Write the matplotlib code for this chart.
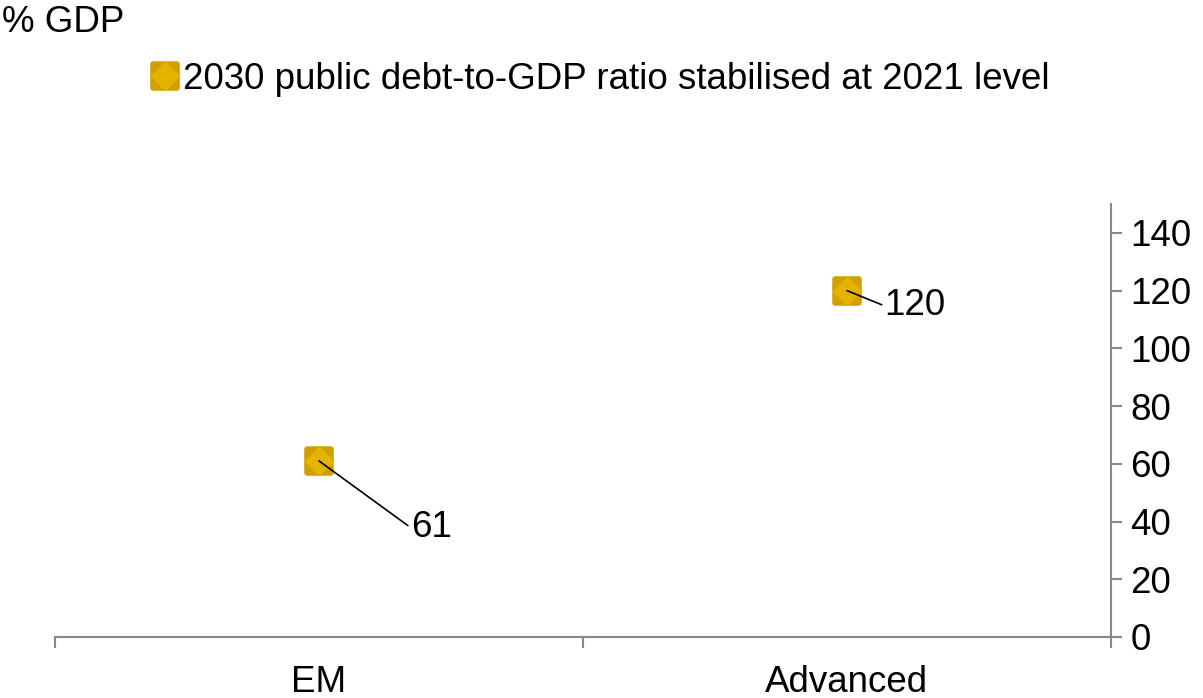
import matplotlib.pyplot as plt
from matplotlib.lines import Line2D
from matplotlib.markers import MarkerStyle

plt.rcParams['font.family'] = ['Liberation Sans', 'DejaVu Sans']

# data
categories = ["EM", "Advanced"]
values = [61, 120]
series_name = "2030 public debt-to-GDP ratio stabilised at 2021 level"
label_offsets = [(66, -48), (27, -11)]  # annotation offsets in points

gold = "#CFA000"
gold_light = "#E4B300"
grey = "#888888"
fs = 26.5

fig = plt.figure(figsize=(12.03, 6.98), dpi=100)
ax = fig.add_axes([0.0457, 0.0874, 0.8778, 0.6203])

rounded_sq = MarkerStyle("s", joinstyle="round")
x = list(range(len(categories)))
ax.plot(x, values, linestyle="none", marker=rounded_sq, markersize=17,
        markerfacecolor=gold, markeredgecolor=gold, markeredgewidth=4, zorder=3)
ax.plot(x, values, linestyle="none", marker="D", markersize=15,
        markerfacecolor=gold_light, markeredgecolor="none", zorder=4)

for xi, v, off in zip(x, values, label_offsets):
    ax.annotate(str(v), xy=(xi, v), xytext=off, textcoords="offset points",
                ha="left", va="center", fontsize=fs,
                arrowprops=dict(arrowstyle="-", color="black", lw=1.2,
                                shrinkA=0, shrinkB=0, relpos=(0, 0.5)),
                zorder=5)

ax.set_xlim(-0.5, len(categories) - 0.5)
ax.set_ylim(0, 150)
ax.set_yticks(range(0, 141, 20))
ax.yaxis.tick_right()
ax.tick_params(axis="y", direction="out", length=8, width=1.5, color=grey,
               labelsize=fs, pad=6)

ax.set_xticks([i - 0.5 for i in range(len(categories) + 1)])
ax.set_xticklabels([])
ax.set_xticks(x, minor=True)
ax.set_xticklabels(categories, minor=True, fontsize=fs)
ax.tick_params(axis="x", which="major", direction="out", length=8, width=1.5, color=grey)
ax.tick_params(axis="x", which="minor", length=0, pad=20)

for side in ["top", "left"]:
    ax.spines[side].set_visible(False)
for side in ["right", "bottom"]:
    ax.spines[side].set_color(grey)
    ax.spines[side].set_linewidth(1.5)

fig.text(0.002, 0.968, "% GDP", fontsize=fs, ha="left", va="center")

# legend handle: rounded square with lighter diamond inside
h_sq = Line2D([], [], linestyle="none", marker=rounded_sq, markersize=17,
              markerfacecolor=gold, markeredgecolor=gold, markeredgewidth=4)
h_dia = Line2D([], [], linestyle="none", marker="D", markersize=15,
               markerfacecolor=gold_light, markeredgecolor="none")
fig.legend([(h_sq, h_dia)], [series_name], loc="center", bbox_to_anchor=(0.497, 0.886),
           frameon=False, fontsize=fs, handletextpad=0.0, handlelength=1.0)

plt.savefig("out.png", dpi=100)
